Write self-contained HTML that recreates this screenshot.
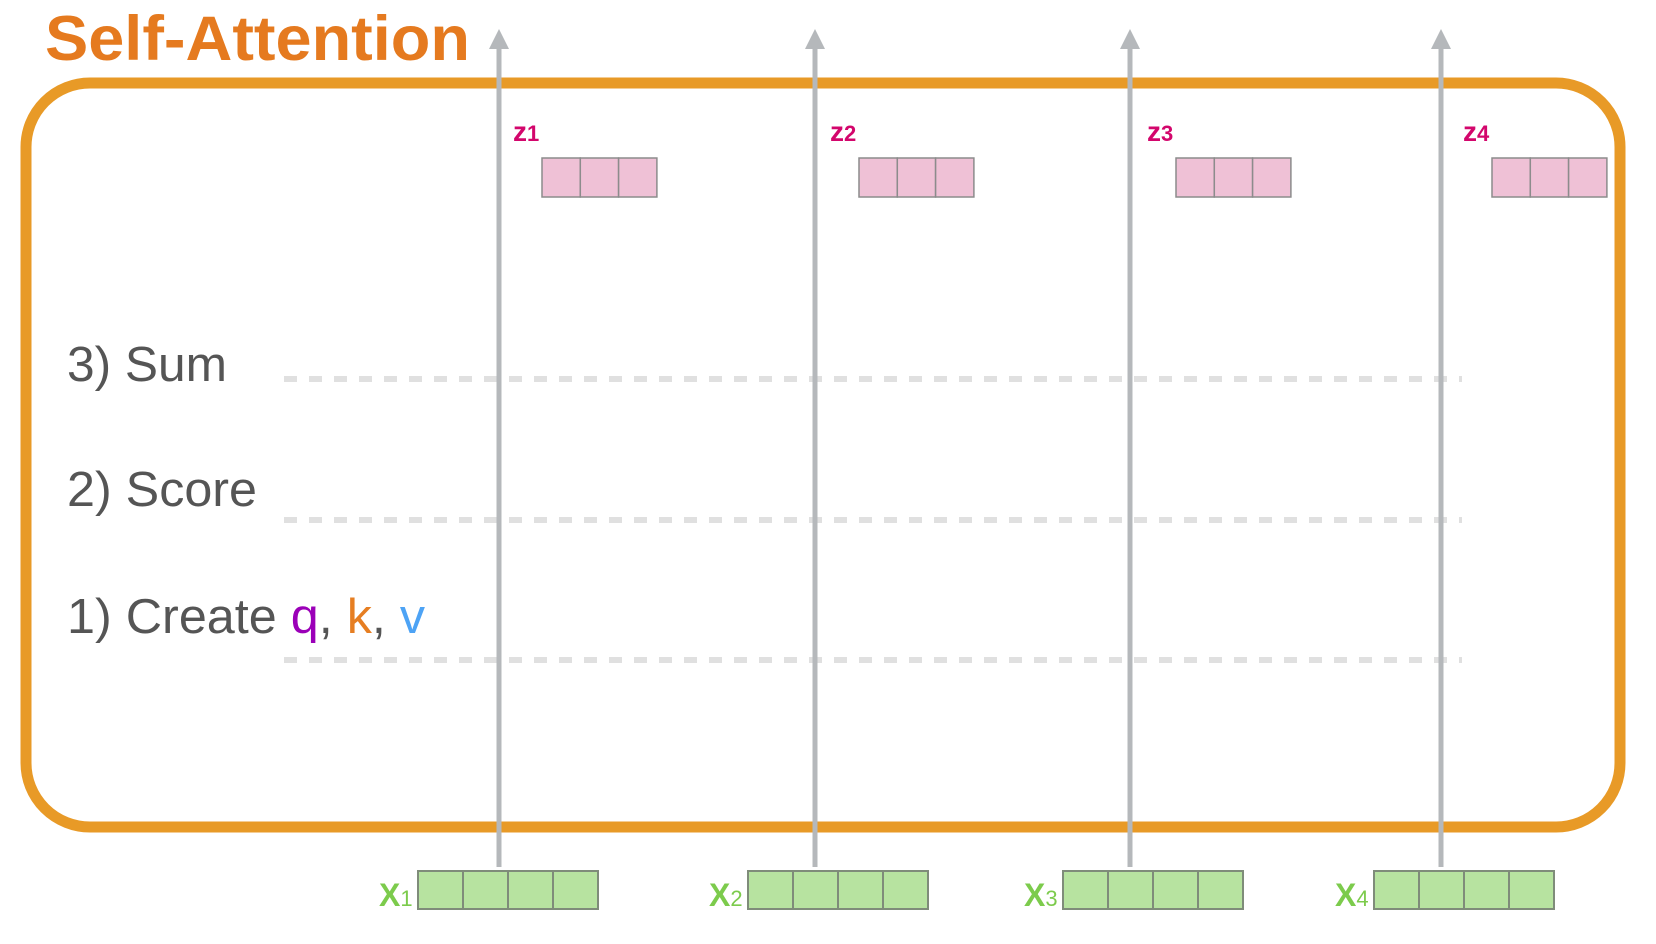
<!DOCTYPE html>
<html><head><meta charset="utf-8"><style>
html,body{margin:0;padding:0;background:#fff;width:1656px;height:944px;overflow:hidden}
svg{display:block}
</style></head><body>
<svg width="1656" height="944" viewBox="0 0 1656 944" xmlns="http://www.w3.org/2000/svg">
<text x="45" y="60" font-family="Liberation Sans, sans-serif" font-weight="bold" font-size="63" fill="#e57a1f" textLength="425" lengthAdjust="spacingAndGlyphs">Self-Attention</text>
<rect x="26" y="83" width="1594" height="744" rx="64" ry="64" fill="none" stroke="#e89a27" stroke-width="11"/>
<g id="dashes" stroke="#e0e0e0" stroke-width="6" stroke-dasharray="13 12">
<line x1="284" y1="379" x2="1462" y2="379"/>
<line x1="284" y1="520" x2="1462" y2="520"/>
<line x1="284" y1="660" x2="1462" y2="660"/>
</g>
<g font-family="Liberation Sans, sans-serif" font-size="49" fill="#555">
<text x="67" y="381" textLength="160" lengthAdjust="spacingAndGlyphs">3) Sum</text>
<text x="67" y="506" textLength="190" lengthAdjust="spacingAndGlyphs">2) Score</text>
<text x="67" y="633" textLength="358" lengthAdjust="spacingAndGlyphs">1) Create <tspan fill="#9b00b8">q</tspan>, <tspan fill="#e67e22">k</tspan>, <tspan fill="#4da3f5">v</tspan></text>
</g>
<g id="cols"></g>
</svg>
<script>
const arrowX=[499,815,1130,1441];
const zBoxX=[542,859,1176,1492];
const xBoxX=[418,748,1063,1374];
const subs=['1','2','3','4'];
const NS='http://www.w3.org/2000/svg';
const g=document.getElementById('cols');
function mk(t,a){const e=document.createElementNS(NS,t);for(const k in a)e.setAttribute(k,a[k]);g.appendChild(e);return e;}
for(let i=0;i<4;i++){
  const ax=arrowX[i];
  const l=mk('line',{x1:ax,y1:867,x2:ax,y2:46,stroke:'#b5b8bb','stroke-width':5});
  
  
  const h=mk('polygon',{points:`${ax-10},49 ${ax},29 ${ax+10},49`,fill:'#b5b8bb'});
  
  
  const zx=zBoxX[i];
  for(let c=0;c<3;c++){
    const r=mk('rect',{x:zx+c*38.3,y:158,width:38.3,height:39,fill:'#efc1d6',stroke:'#8c8c8c','stroke-width':1.5});
    
    
  }
  const zt=mk('text',{x:zx-29,y:141,'font-family':'Liberation Sans, sans-serif','font-weight':'bold','font-size':28,fill:'#d3066c'});
  zt.innerHTML='z<tspan font-size="22">'+subs[i]+'</tspan>';
  
  
  const xx=xBoxX[i];
  for(let c=0;c<4;c++){
    const r=mk('rect',{x:xx+c*45,y:871,width:45,height:38,fill:'#b7e3a0',stroke:'#7f8c7a','stroke-width':2});
    
    
  }
  const xt=mk('text',{x:xx-39,y:906,'font-family':'Liberation Sans, sans-serif','font-weight':'bold','font-size':32,fill:'#7ccb4c'});
  xt.innerHTML='X<tspan font-size="22" font-weight="normal">'+subs[i]+'</tspan>';
  
  
}
</script>
</body></html>
